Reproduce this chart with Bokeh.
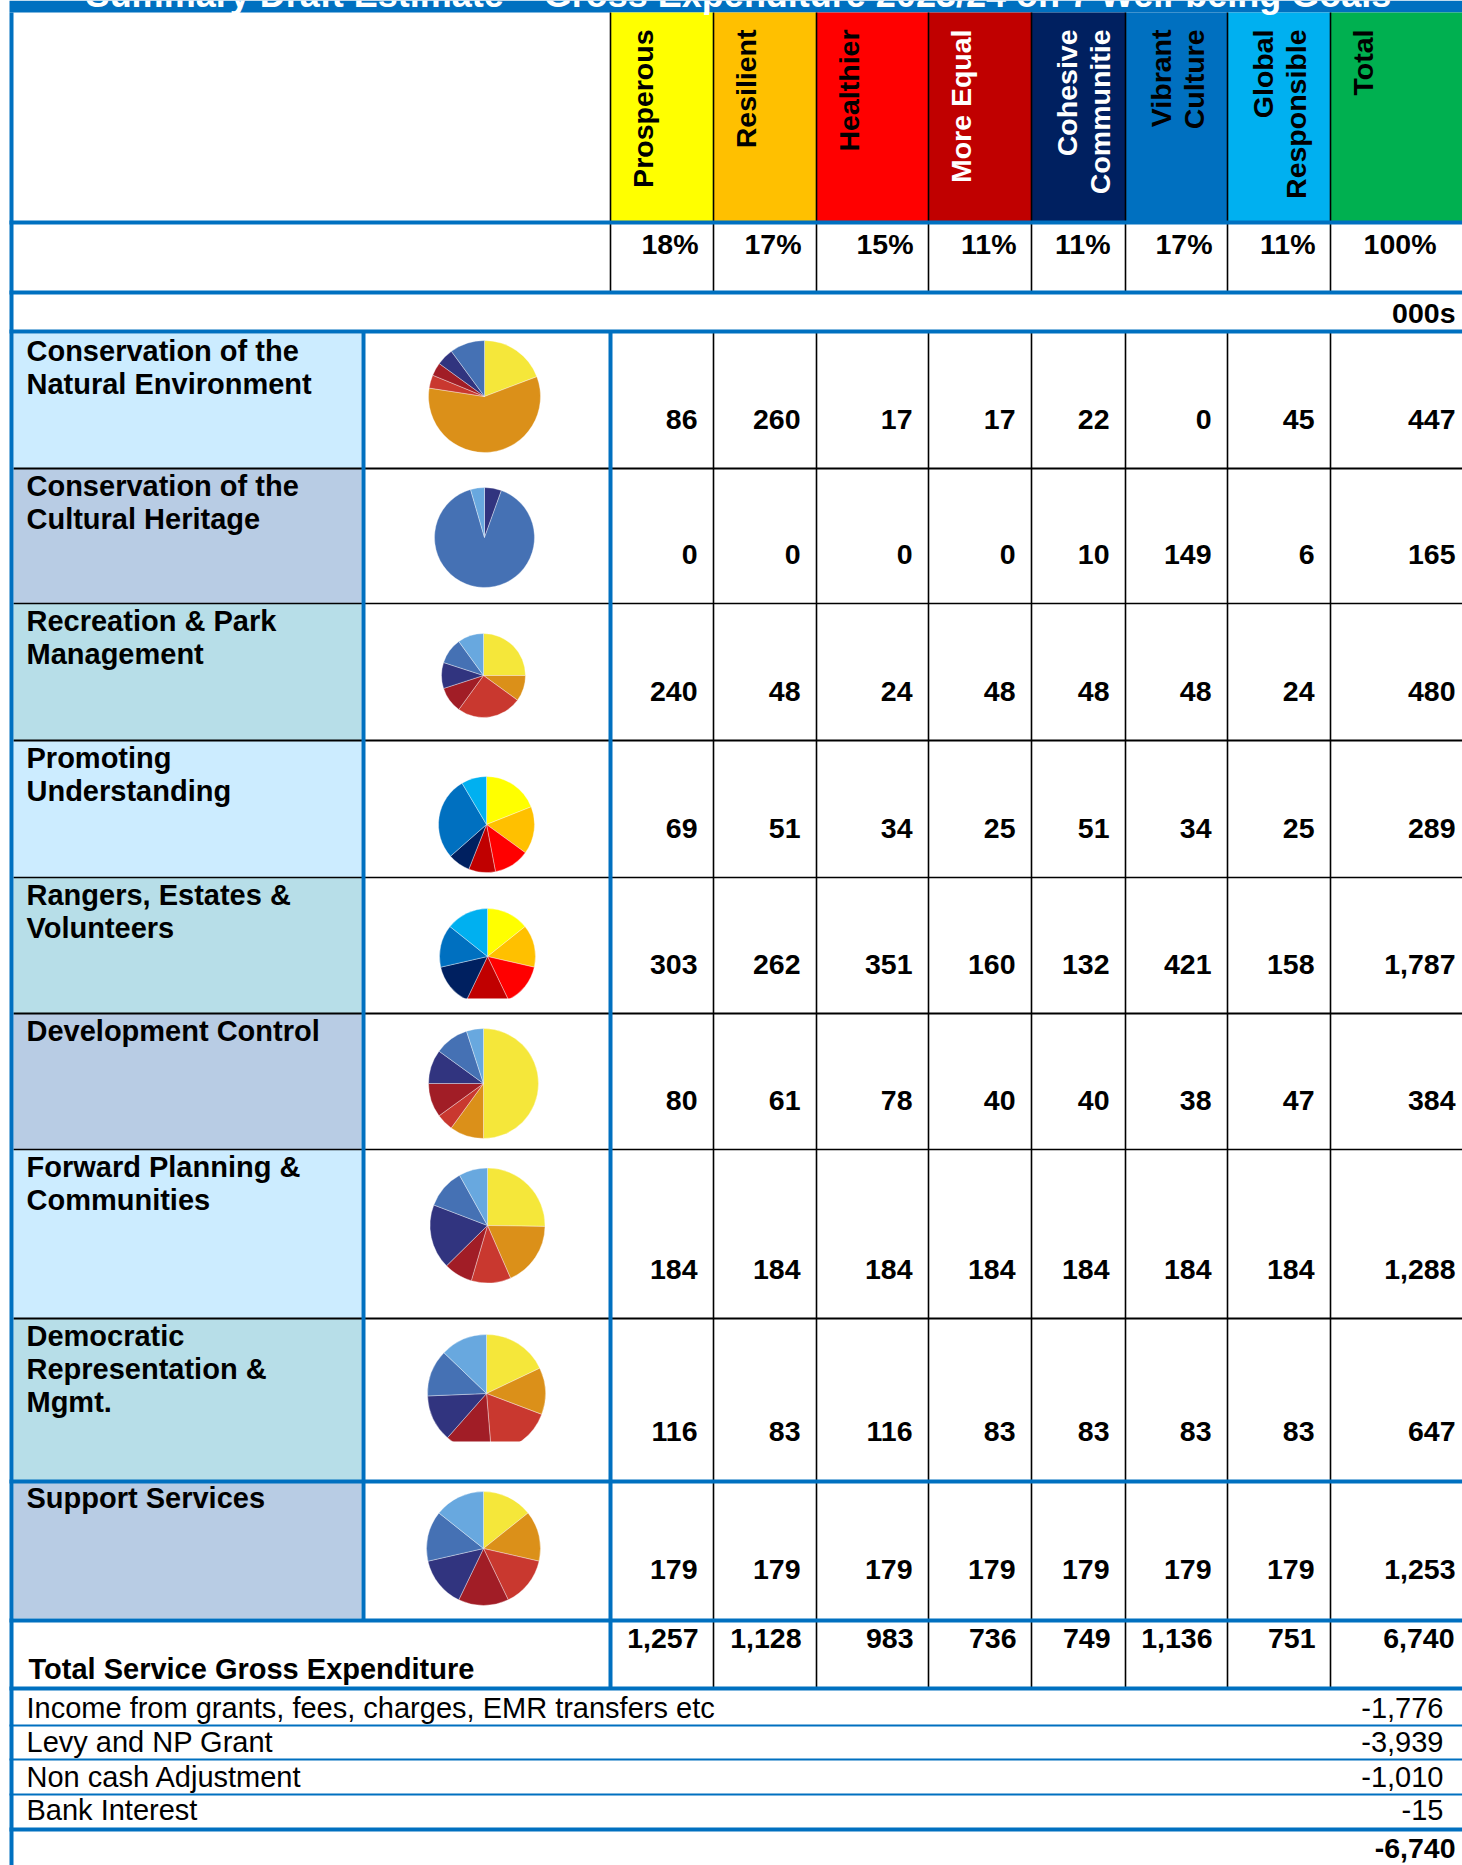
import math
from bokeh.plotting import figure
from bokeh.models import Range1d
from bokeh.core.properties import value
from bokeh.embed import file_html
from bokeh.resources import INLINE

# ---------------- data ----------------
title = "Summary Draft Estimate \u2013 Gross Expenditure 2023/24 on 7 Well-being Goals"
goal_header_lines = [["Prosperous"], ["Resilient"], ["Healthier"], ["More Equal"],
                     ["Cohesive", "Communitie"], ["Vibrant", "Culture"],
                     ["Global", "Responsible"], ["Total"]]
goal_share_pct = [18, 17, 15, 11, 11, 17, 11, 100]
unit_label = "000s"

service_lines = [
    ["Conservation of the", "Natural Environment"],
    ["Conservation of the", "Cultural Heritage"],
    ["Recreation & Park", "Management"],
    ["Promoting", "Understanding"],
    ["Rangers, Estates &", "Volunteers"],
    ["Development Control"],
    ["Forward Planning &", "Communities"],
    ["Democratic", "Representation &", "Mgmt."],
    ["Support Services"],
]
prosperous = [86, 0, 240, 69, 303, 80, 184, 116, 179]
resilient = [260, 0, 48, 51, 262, 61, 184, 83, 179]
healthier = [17, 0, 24, 34, 351, 78, 184, 116, 179]
more_equal = [17, 0, 48, 25, 160, 40, 184, 83, 179]
cohesive = [22, 10, 48, 51, 132, 40, 184, 83, 179]
vibrant = [0, 149, 48, 34, 421, 38, 184, 83, 179]
global_resp = [45, 6, 24, 25, 158, 47, 184, 83, 179]
service_total = [447, 165, 480, 289, 1787, 384, 1288, 647, 1253]

total_label = "Total Service Gross Expenditure"
goal_totals = [1257, 1128, 983, 736, 749, 1136, 751, 6740]

funding_labels = ["Income from grants, fees, charges, EMR transfers etc",
                  "Levy and NP Grant", "Non cash Adjustment", "Bank Interest"]
funding_values = [-1776, -3939, -1010, -15]
funding_total = -6740

# pie slice shares as drawn in each row's small pie
pie_natural = [86, 260, 17, 17, 22, 45, 0]
pie_cultural = [0, 0, 0, 0, 5.5, 90, 4.5]
pie_recreation = [25, 10, 25, 10, 10, 10, 10]
pie_promoting = [19, 16, 12, 9, 7.5, 28, 8.5]
pie_rangers = [1, 1, 1, 1, 1, 1, 1]
pie_development = [50, 10, 5, 10, 10, 10, 5]
pie_forward = [25, 18, 11, 8, 18, 11, 8]
pie_democratic = [116, 83, 116, 83, 83, 83, 83]
pie_support = [1, 1, 1, 1, 1, 1, 1]
pies = [pie_natural, pie_cultural, pie_recreation, pie_promoting, pie_rangers,
        pie_development, pie_forward, pie_democratic, pie_support]

# ---------------- styles / layout ----------------
BLUE = "#0070C0"
header_colors = ["#FFFF00", "#FFC000", "#FF0000", "#C00000", "#002060", "#0070C0", "#00B0F0", "#00B050"]
header_text_colors = ["black", "black", "black", "white", "white", "black", "black", "black"]
muted = ["#F5E73A", "#DB9019", "#C9382F", "#A11D26", "#31347F", "#4571B4", "#68A8DF"]
bright = ["#FFFF00", "#FFC000", "#FF0000", "#C00000", "#002060", "#0070C0", "#00B0F0"]
pie_palette = [muted, muted, muted, bright, bright, muted, muted, muted, muted]
label_bg = ["#CCECFF", "#B8CCE4", "#B7DEE8", "#CCECFF", "#B7DEE8", "#B8CCE4", "#CCECFF", "#B7DEE8", "#B8CCE4"]

col_edges = [610, 713, 816, 928, 1031, 1125, 1227, 1330, 1462]
row_edges = [333, 468, 603, 740, 877, 1013, 1149, 1318, 1480, 1618]
pie_cx = [484, 484, 483, 486, 487, 483, 487, 486, 483]
pie_cy = [396, 537, 675, 824, 956, 1083, 1225, 1393, 1548]
pie_r = [56, 50, 42, 48, 48, 55, 57.5, 59, 57]
pie_clip = [None, None, None, None, 998, None, None, 1441, None]

FONT = value("Liberation Sans")
BASE_K = 0.35  # empirical baseline correction (fraction of font size)


def Y(v):
    return -v


p = figure(width=1462, height=1865, x_range=Range1d(0, 1462), y_range=Range1d(-1865, 0),
           output_backend="svg", toolbar_location=None, min_border=0,
           x_axis_type=None, y_axis_type=None)
p.outline_line_color = None
p.grid.visible = False
p.background_fill_color = "white"
p.border_fill_color = "white"

# title band
p.quad(left=[9], right=[1462], top=[Y(0)], bottom=[Y(12)], fill_color=BLUE, line_color=None)
# header cells
p.quad(left=col_edges[:-1], right=col_edges[1:], top=[Y(12)] * 8, bottom=[Y(221)] * 8,
       fill_color=header_colors, line_color=None)
# label backgrounds
p.quad(left=[13] * 9, right=[361] * 9, top=[Y(v) for v in row_edges[:-1]],
       bottom=[Y(v) for v in row_edges[1:]], fill_color=label_bg, line_color=None)

# pies
for i, shares in enumerate(pies):
    tot = sum(shares)
    starts, ends, cols = [], [], []
    cum = 0.0
    for k, s in enumerate(shares):
        if s <= 0:
            continue
        a0 = math.pi / 2 - 2 * math.pi * cum / tot
        cum += s
        a1 = math.pi / 2 - 2 * math.pi * cum / tot
        starts.append(a0)
        ends.append(a1)
        cols.append(pie_palette[i][k])
    n = len(starts)
    p.wedge(x=[pie_cx[i]] * n, y=[Y(pie_cy[i])] * n, radius=pie_r[i],
            start_angle=starts, end_angle=ends, direction="clock",
            fill_color=cols, line_color="white", line_width=0.6, line_alpha=0.6)
    if pie_clip[i] is not None:
        p.quad(left=[pie_cx[i] - pie_r[i] - 3], right=[pie_cx[i] + pie_r[i] + 3],
               top=[Y(pie_clip[i])], bottom=[Y(pie_cy[i] + pie_r[i] + 3)],
               fill_color="white", line_color=None)

# ---------------- lines ----------------
segs = {}


def seg(x0, y0, x1, y1, color, w):
    d = segs.setdefault((color, w), ([], [], [], []))
    d[0].append(x0); d[1].append(Y(y0)); d[2].append(x1); d[3].append(Y(y1))


for x in col_edges[1:-1]:
    seg(x, 12, x, 292, "black", 1.6)
    seg(x, 331, x, 1688, "black", 1.6)
seg(610, 12, 610, 292, "black", 1.6)
for j, yv in enumerate(row_edges[1:8]):
    seg(13, yv, 1462, yv, "black", 2.2 if j % 2 == 0 else 1.5)
seg(11, 12, 11, 1865, BLUE, 4)
seg(363, 331, 363, 1620, BLUE, 4)
seg(610, 331, 610, 1688, BLUE, 4)
for yv in [222, 292, 331, 1481, 1620, 1688, 1829]:
    seg(9, yv, 1462, yv, BLUE, 4)
for yv in [1725, 1759, 1794]:
    seg(9, yv, 1462, yv, BLUE, 1.8)

for (color, w), (x0, y0, x1, y1) in segs.items():
    p.segment(x0=x0, y0=y0, x1=x1, y1=y1, line_color=color, line_width=w)


# ---------------- texts ----------------
def txt(x, y, s, size=28.5, bold=True, align="left", color="black", angle=0.0):
    corr = BASE_K * size
    if angle == 0:
        y = y - corr
    else:
        x = x - corr
    p.text(x=[x], y=[Y(y)], text=[s], text_font=FONT,
           text_font_size=f"{size}px", text_font_style="bold" if bold else "normal",
           text_align=align, text_baseline="alphabetic", text_color=color, angle=angle)


txt(738, 7, title, size=36, color="white", align="center")

for i, lines in enumerate(goal_header_lines):
    left = col_edges[i]
    xs = [left + 42] if len(lines) == 1 else [left + 45, left + 78]
    for x, s in zip(xs, lines):
        txt(x, 29, s, size=28.5, align="right", color=header_text_colors[i], angle=math.pi / 2)

for i, v in enumerate(goal_share_pct):
    right = col_edges[i + 1] - 15 if i < 7 else 1436
    txt(right, 253, f"{v}%", align="right")

txt(1455, 322, unit_label, align="right")

cols_data = [prosperous, resilient, healthier, more_equal, cohesive, vibrant, global_resp, service_total]
for r in range(9):
    top, bot = row_edges[r], row_edges[r + 1]
    for k, s in enumerate(service_lines[r]):
        txt(26, top + 28 + 33 * k, s, size=29)
    for i, col in enumerate(cols_data):
        right = col_edges[i + 1] - 16 if i < 7 else 1455
        txt(right, bot - 39, f"{col[r]:,}", align="right")

txt(28, 1679, total_label, size=29)
for i, v in enumerate(goal_totals):
    right = col_edges[i + 1] - 15 if i < 7 else 1454
    txt(right, 1648, f"{v:,}", align="right")

fund_base = [1718, 1752, 1787, 1820]
for s, v, b in zip(funding_labels, funding_values, fund_base):
    txt(26, b, s, bold=False, size=29)
    txt(1443, b, f"{v:,}", bold=False, size=29, align="right")
txt(1455, 1858, f"{funding_total:,}", align="right")

open("out.html", "w").write(file_html(p, INLINE))
